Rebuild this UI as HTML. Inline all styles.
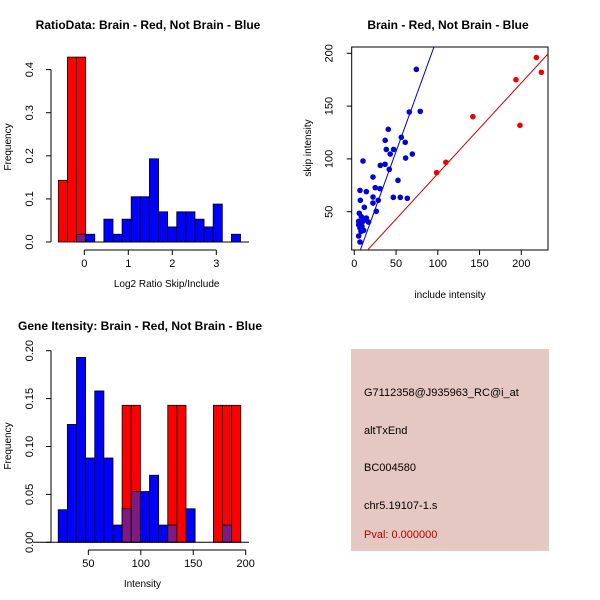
<!DOCTYPE html>
<html><head><meta charset="utf-8"><style>
body{margin:0;background:#fff}
svg{display:block;font-family:"Liberation Sans",sans-serif}
</style></head><body>
<svg id="c" width="600" height="600" viewBox="0 0 600 600">
<rect width="600" height="600" fill="#fff"/>
<text x="148" y="29" font-size="12" font-weight="bold" text-anchor="middle">RatioData: Brain - Red, Not Brain - Blue</text>
<text x="448" y="29" font-size="12" font-weight="bold" text-anchor="middle">Brain - Red, Not Brain - Blue</text>
<text x="140" y="330" font-size="12" font-weight="bold" text-anchor="middle">Gene Itensity: Brain - Red, Not Brain - Blue</text>
<g id="p1"></g>
<g id="p2"></g>
<g id="p3"></g>
<g>
<rect x="351" y="349" width="198" height="202" fill="#E6C8C2"/>
<text x="364" y="396" font-size="11">G7112358@J935963_RC@i_at</text>
<text x="364" y="434" font-size="11">altTxEnd</text>
<text x="364" y="471" font-size="11">BC004580</text>
<text x="364" y="509" font-size="11">chr5.19107-1.s</text>
<text x="364" y="538" font-size="11" fill="#B00000">Pval: 0.000000</text>
</g>
</svg>
<script>
// Ratio histogram data
const ratioBinStarts = [-0.59,-0.383,-0.176,0.031,0.238,0.445,0.652,0.859,1.066,1.273,1.48,1.687,1.894,2.101,2.308,2.515,2.722,2.929,3.136,3.343];
const ratioBinWidth = 0.207;
const ratioRed  = [0.143,0.429,0.429,0,0,0,0,0,0,0,0,0,0,0,0,0,0,0,0,0];
const ratioBlue = [0,0,0.018,0.018,0,0.053,0.018,0.053,0.105,0.105,0.193,0.070,0.035,0.070,0.070,0.053,0.035,0.088,0,0.018];
const ratioXTicks = [0,1,2,3];
const ratioYTicks = [0.0,0.1,0.2,0.3,0.4];
// Scatter data
const brainInclude = [98.6,109.7,142,193.6,198.4,218,224];
const brainSkip    = [87,96.8,140,175,131.8,196,182];
const notBrainInclude = [74.3,79,65.9,56.3,61,40.7,37,38.3,47.1,43,69.5,61.5,36.8,31.1,41.9,22.4,52.3,10.4,25.1,30.8,14.4,6.8,22.4,28.7,22.4,46.7,55.1,63.5,7.2,26.3,12,6,8.4,5.2,13,17,9.2,8,11.2,5.2,6.8,14.4,7.6,10.4,5.2,6.8];
const notBrainSkip    = [184.8,145,144.4,120.5,115.7,128,117.6,109,109,104.6,104.6,100.8,94.9,93.9,90.1,82.8,79.7,98,72.8,71.8,69,70.2,63.9,60.8,58.2,63.6,63.6,62.7,60.8,50.4,54.2,48.5,45.3,40.9,42.5,40.2,36.1,31.3,32.3,27,21.3,44,39.3,40.9,37.7,34.5];
const fitBlue = [-2,2.18];
const fitRed = [0,0.86];
const scatterXTicks = [0,50,100,150,200];
const scatterYTicks = [50,100,150,200];
// Intensity histogram data
const intBinStarts = [21.3,30,38.7,47.4,56.1,64.8,73.5,82.2,90.9,99.6,108.3,117,125.7,134.4,143.1,151.8,160.5,169.2,177.9,186.6];
const intBinWidth = 8.7;
const intRed  = [0,0,0,0,0,0,0,0.143,0.143,0,0,0,0.143,0.143,0,0,0,0.143,0.143,0.143];
const intBlue = [0.034,0.123,0.193,0.088,0.158,0.088,0.018,0.035,0.053,0.053,0.070,0.018,0.018,0,0.035,0,0,0,0.018,0];
const intXTicks = [50,100,150,200];
const intYTicks = ["0.00","0.05","0.10","0.15","0.20"];

const NS="http://www.w3.org/2000/svg";
function mk(parent,tag,attrs){const e=document.createElementNS(NS,tag);for(const k in attrs)e.setAttribute(k,attrs[k]);parent.appendChild(e);return e;}

function hist(g,o){
  const sx=v=>o.x0+(v-o.xv0)*o.kx, sy=v=>o.y0-v*o.ky;
  o.starts.forEach((s,i)=>{
    const x=sx(s),w=o.bw*o.kx,r=o.red[i],b=o.blue[i];
    if(r>0){const e=mk(g,'rect',{x:x,y:sy(r),width:w,height:sy(0)-sy(r),fill:'#FF0000',stroke:'#000','stroke-width':0.8});
      }
    if(b>0){const e=mk(g,'rect',{x:x,y:sy(b),width:w,height:sy(0)-sy(b),fill:r>0?'#7F1A80':'#0000FF',stroke:'#000','stroke-width':0.8});
      }
  });
  const yv=o.yt.map(Number);
  mk(g,'line',{x1:o.axX,x2:o.axX,y1:sy(yv[0]),y2:sy(yv[yv.length-1]),stroke:'#000'});
  o.yt.forEach(t=>{const y=sy(Number(t));mk(g,'line',{x1:o.axX-5,x2:o.axX,y1:y,y2:y,stroke:'#000'});
    const tx=mk(g,'text',{x:o.axX-18,y:y,'font-size':11,'text-anchor':'middle',transform:`rotate(-90 ${o.axX-18} ${y})`});tx.textContent=t;
    });
  const xa=o.xt.map(sx);
  mk(g,'line',{x1:xa[0],x2:xa[xa.length-1],y1:o.axY,y2:o.axY,stroke:'#000'});
  o.xt.forEach((t,i)=>{mk(g,'line',{x1:xa[i],x2:xa[i],y1:o.axY,y2:o.axY+5,stroke:'#000'});
    const tx=mk(g,'text',{x:xa[i],y:o.axY+17,'font-size':11,'text-anchor':'middle'});tx.textContent=t;
    });
  mk(g,'line',{x1:o.x0-3,x2:o.x1,y1:o.y0,y2:o.y0,stroke:'#000'});
  const xl=mk(g,'text',{x:(o.x0+o.x1)/2,y:o.axY+37,'font-size':10,'text-anchor':'middle'});xl.textContent=o.xlab;
  
  const yl=mk(g,'text',{x:11,y:o.ymid,'font-size':10,'text-anchor':'middle',transform:`rotate(-90 11 ${o.ymid})`});yl.textContent='Frequency';
  
}
hist(document.getElementById('p1'),{starts:ratioBinStarts,bw:ratioBinWidth,red:ratioRed,blue:ratioBlue,xv0:0,x0:84.3,kx:44,y0:242,ky:431,
  yt:ratioYTicks.map(v=>v.toFixed(1)),xt:ratioXTicks,axX:51,axY:250,x1:249,xlab:'Log2 Ratio Skip/Include',ymid:147});
hist(document.getElementById('p3'),{starts:intBinStarts,bw:intBinWidth,red:intRed,blue:intBlue,xv0:0,x0:35.9,kx:1.049,y0:542.3,ky:958,
  yt:intYTicks,xt:intXTicks,axX:51,axY:550,x1:249,xlab:'Intensity',ymid:446});

(function(){
  const g=document.getElementById('p2');
  const sx=v=>354.3+v*0.835, sy=v=>264.5-v*1.056;
  const L=351.7,R=548,T=47,B=250;
  const cp=mk(g,'clipPath',{id:'cp'});mk(cp,'rect',{x:L,y:T,width:R-L,height:B-T});
  mk(g,'rect',{x:L,y:T,width:R-L,height:B-T,fill:'none',stroke:'#000'});
  const lines=mk(g,'g',{'clip-path':'url(#cp)'});
  [[fitBlue,'#0000CC','blue-fit-line'],[fitRed,'#CC0000','red-fit-line']].forEach(([f,c,n])=>{
    const e=mk(lines,'line',{x1:sx(-10),y1:sy(f[0]+f[1]*-10),x2:sx(240),y2:sy(f[0]+f[1]*240),stroke:c,'stroke-width':1});
    });
  notBrainInclude.forEach((x,i)=>{const e=mk(g,'circle',{cx:sx(x),cy:sy(notBrainSkip[i]),r:2.8,fill:'#0000DD'});
    });
  brainInclude.forEach((x,i)=>{const e=mk(g,'circle',{cx:sx(x),cy:sy(brainSkip[i]),r:2.8,fill:'#EE0000'});
    });
  scatterXTicks.forEach(t=>{const x=sx(t);mk(g,'line',{x1:x,x2:x,y1:B,y2:B+5,stroke:'#000'});
    const tx=mk(g,'text',{x:x,y:B+17,'font-size':11,'text-anchor':'middle'});tx.textContent=t;
    });
  scatterYTicks.forEach(t=>{const y=sy(t);mk(g,'line',{x1:L-5,x2:L,y1:y,y2:y,stroke:'#000'});
    const tx=mk(g,'text',{x:L-19,y:y,'font-size':11,'text-anchor':'middle',transform:`rotate(-90 ${L-19} ${y})`});tx.textContent=t;
    });
  const xl=mk(g,'text',{x:450,y:298,'font-size':10,'text-anchor':'middle'});xl.textContent='include intensity';
  
  const yl=mk(g,'text',{x:311,y:148,'font-size':10,'text-anchor':'middle',transform:'rotate(-90 311 148)'});yl.textContent='skip intensity';
  
})();
</script>
</body></html>
